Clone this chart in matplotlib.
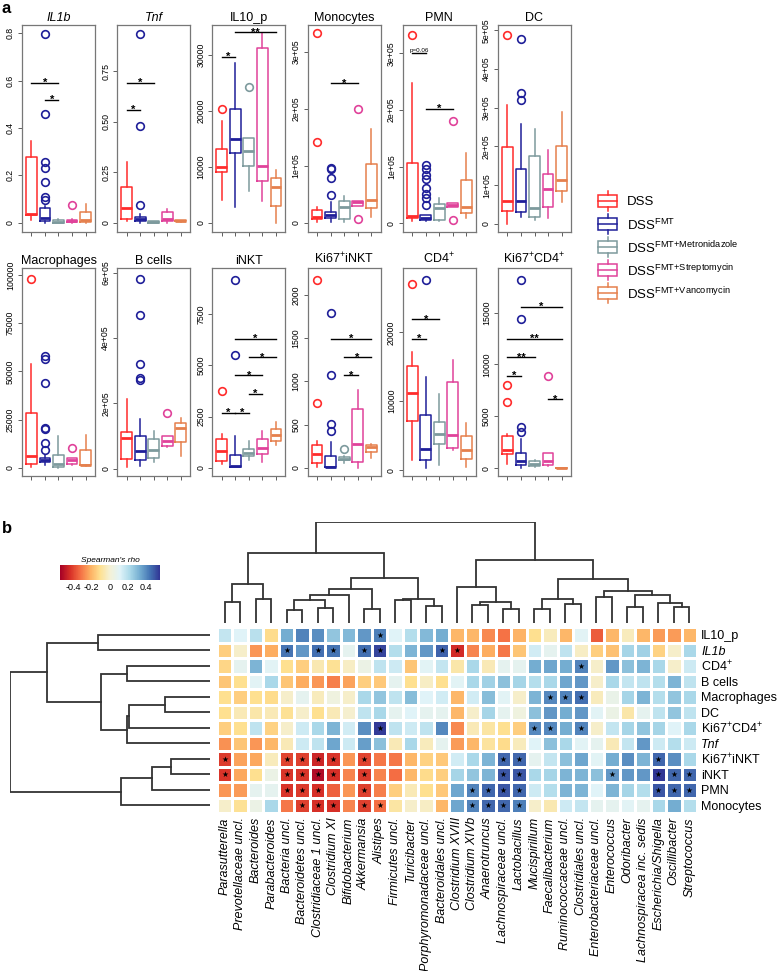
import matplotlib.pyplot as plt
import numpy as np
from matplotlib.colors import LinearSegmentedColormap
from matplotlib.patches import Rectangle

plt.rcParams["font.family"] = ["Liberation Sans", "DejaVu Sans"]
plt.rcParams["mathtext.fontset"] = "custom"
plt.rcParams["mathtext.rm"] = "Liberation Sans"
plt.rcParams["mathtext.it"] = "Liberation Sans:italic"
plt.rcParams["mathtext.bf"] = "Liberation Sans:bold"

# ---------------- panel a: boxplot summaries ----------------
group_names = ["DSS", r"DSS$^{\mathrm{FMT}}$", r"DSS$^{\mathrm{FMT{+}Metronidazole}}$",
               r"DSS$^{\mathrm{FMT{+}Streptomycin}}$", r"DSS$^{\mathrm{FMT{+}Vancomycin}}$"]
group_colors = ["#FF2B2B", "#1F1F99", "#7D9A9D", "#E0429A", "#E5804D"]

# (whislo, q1, med, q3, whishi) per group
il1b_box = [(0.01, 0.03, 0.034, 0.275, 0.345), (0.0, 0.006, 0.02, 0.06, 0.07),
            (0.0, 0.0, 0.004, 0.01, 0.015), (0.0, 0.004, 0.007, 0.011, 0.014),
            (0.0, 0.003, 0.012, 0.045, 0.08)]
il1b_out = [[], [0.796, 0.457, 0.257, 0.229, 0.173, 0.11, 0.097], [], [0.075], []]
il1b_sig = [(1, 3, 0.59, "*"), (2, 3, 0.52, "*")]

tnf_box = [(0.007, 0.016, 0.072, 0.176, 0.30), (0.0, 0.007, 0.016, 0.028, 0.045),
           (0.0, 0.0, 0.003, 0.008, 0.01), (0.0, 0.007, 0.02, 0.053, 0.07),
           (0.006, 0.008, 0.01, 0.012, 0.014)]
tnf_out = [[], [0.936, 0.477, 0.086], [], [], []]
tnf_sig = [(1, 3, 0.694, "*"), (1, 2, 0.56, "*")]

il10_box = [(4140, 9000, 9880, 13130, 18170), (2780, 12430, 15030, 20350, 28520),
            (5740, 10060, 12840, 15200, 15200), (3850, 7510, 10060, 31180, 33850),
            (0, 3080, 6450, 7930, 9470)]
il10_out = [[20350], [], [24260], [], []]
il10_sig = [(1, 2, 29590, "*"), (2, 5, 34020, "**")]

mono_box = [(0.02e5, 0.07e5, 0.10e5, 0.23e5, 0.27e5), (0.02e5, 0.08e5, 0.13e5, 0.19e5, 0.36e5),
            (0.02e5, 0.07e5, 0.27e5, 0.39e5, 0.48e5), (0.30e5, 0.30e5, 0.37e5, 0.39e5, 0.39e5),
            (0.10e5, 0.26e5, 0.40e5, 1.03e5, 1.64e5)]
mono_out = [[3.33e5, 1.41e5], [0.49e5, 0.78e5, 0.94e5, 0.97e5], [], [2.0e5, 0.06e5], []]
mono_sig = [(2, 4, 2.45e5, "*")]

pmn_box = [(0.04e5, 0.09e5, 0.13e5, 1.06e5, 2.48e5), (0.04e5, 0.07e5, 0.09e5, 0.15e5, 0.15e5),
           (0.04e5, 0.07e5, 0.27e5, 0.35e5, 0.45e5), (0.29e5, 0.29e5, 0.32e5, 0.36e5, 0.36e5),
           (0.10e5, 0.19e5, 0.29e5, 0.77e5, 1.25e5)]
pmn_out = [[3.33e5], [0.32e5, 0.45e5, 0.52e5, 0.63e5, 0.79e5, 0.86e5, 0.96e5, 1.03e5],
           [], [1.8e5, 0.06e5], []]
pmn_sig = [(1, 2, 3.0e5, "p=0.06"), (2, 4, 2.02e5, "*")]

dc_box = [(0.0, 0.34e5, 0.58e5, 1.98e5, 3.07e5), (0.17e5, 0.30e5, 0.60e5, 1.42e5, 2.58e5),
          (0.09e5, 0.17e5, 0.40e5, 1.76e5, 2.44e5), (0.14e5, 0.44e5, 0.91e5, 1.29e5, 1.90e5),
          (0.57e5, 0.85e5, 1.13e5, 2.00e5, 2.88e5)]
dc_out = [[4.87e5], [4.79e5, 3.37e5, 3.19e5], [], [], []]
dc_sig = []

mac_box = [(500, 1700, 6300, 28600, 53600), (1400, 2900, 4000, 5100, 6800),
           (0, 500, 1700, 6850, 16270), (1200, 2200, 3900, 4800, 5100),
           (860, 1200, 1540, 9400, 17100)]
mac_out = [[98000], [58200, 56200, 43700, 20550, 20030, 12840, 9080], [], [10270], []]
mac_sig = []

bcell_box = [(0.05e5, 0.30e5, 0.94e5, 1.14e5, 2.12e5), (0.08e5, 0.26e5, 0.54e5, 1.01e5, 1.52e5),
             (0.20e5, 0.33e5, 0.56e5, 0.91e5, 1.17e5), (0.67e5, 0.71e5, 0.86e5, 1.01e5, 1.01e5),
             (0.40e5, 0.82e5, 1.26e5, 1.39e5, 1.55e5)]
bcell_out = [[], [5.81e5, 4.71e5, 3.21e5, 2.79e5, 2.71e5], [], [1.70e5], []]
bcell_sig = []

inkt_box = [(210, 320, 810, 1420, 1660), (50, 50, 80, 650, 1560), (370, 560, 730, 940, 1290),
            (270, 680, 970, 1420, 1820), (1130, 1320, 1610, 1900, 2260)]
inkt_out = [[3740], [9190, 5520], [], [], []]
inkt_sig = [(1, 2, 2690, "*"), (2, 3, 2690, "*"), (3, 4, 3600, "*"),
            (2, 4, 4520, "*"), (3, 5, 5400, "*"), (2, 5, 6290, "*")]

kinkt_box = [(10, 50, 160, 260, 305), (5, 8, 10, 134, 294), (57, 88, 103, 122, 134),
             (0, 69, 279, 680, 897), (115, 183, 240, 267, 275)]
kinkt_out = [[2175, 744], [1794, 1076, 504, 427], [218], [], []]
kinkt_sig = [(3, 4, 1069, "*"), (3, 5, 1279, "*"), (2, 5, 1489, "*")]

cd4_box = [(1440, 7190, 11220, 15060, 17220), (340, 1530, 3120, 8010, 13530),
           (670, 3790, 5280, 6950, 11030), (2880, 3210, 5040, 12810, 16020),
           (430, 1680, 2970, 4890, 6910)]
cd4_out = [[27050], [27670], [], [], []]
cd4_sig = [(1, 2, 19040, "*"), (1, 3, 21920, "*")]

kcd4_box = [(350, 1400, 1720, 3060, 3310), (30, 290, 670, 1460, 2800), (100, 250, 410, 670, 830),
            (190, 290, 670, 1460, 1460), (0, 0, 0, 10, 20)]
kcd4_out = [[7990, 6340], [18190, 14360, 4010, 3440], [], [8850], []]
kcd4_sig = [(1, 2, 8880, "*"), (1, 3, 10700, "**"), (1, 5, 12450, "**"),
            (2, 5, 15570, "*"), (4, 5, 6620, "*")]

top_panels = [
    ("IL1b", True, il1b_box, il1b_out, il1b_sig, (-0.04, 0.835),
     [0, 0.2, 0.4, 0.6, 0.8], ["0", "0.2", "0.4", "0.6", "0.8"]),
    ("Tnf", True, tnf_box, tnf_out, tnf_sig, (-0.046, 0.98),
     [0, 0.25, 0.5, 0.75], ["0", "0.25", "0.50", "0.75"]),
    ("IL10_p", False, il10_box, il10_out, il10_sig, (-1650, 35300),
     [0, 10000, 20000, 30000], ["0", "10000", "20000", "30000"]),
    ("Monocytes", False, mono_box, mono_out, mono_sig, (-0.16e5, 3.47e5),
     [0, 1e5, 2e5, 3e5], ["0", "1e+05", "2e+05", "3e+05"]),
    ("PMN", False, pmn_box, pmn_out, pmn_sig, (-0.15e5, 3.5e5),
     [0, 1e5, 2e5, 3e5], ["0", "1e+05", "2e+05", "3e+05"]),
    ("DC", False, dc_box, dc_out, dc_sig, (-0.21e5, 5.14e5),
     [0, 1e5, 2e5, 3e5, 4e5, 5e5], ["0", "1e+05", "2e+05", "3e+05", "4e+05", "5e+05"]),
]
bottom_panels = [
    ("Macrophages", False, mac_box, mac_out, mac_sig, (-4280, 103600),
     [0, 25000, 50000, 75000, 100000], ["0", "25000", "50000", "75000", "100000"]),
    ("B cells", False, bcell_box, bcell_out, bcell_sig, (-0.22e5, 6.14e5),
     [0, 2e5, 4e5, 6e5], ["0", "2e+05", "4e+05", "6e+05"]),
    ("iNKT", False, inkt_box, inkt_out, inkt_sig, (-400, 9760),
     [0, 2500, 5000, 7500], ["0", "2500", "5000", "7500"]),
    (r"Ki67$^{+}$iNKT", False, kinkt_box, kinkt_out, kinkt_sig, (-95, 2310),
     [0, 500, 1000, 1500, 2000], ["0", "500", "1000", "1500", "2000"]),
    (r"CD4$^{+}$", False, cd4_box, cd4_out, cd4_sig, (-860, 29350),
     [0, 10000, 20000], ["0", "10000", "20000"]),
    (r"Ki67$^{+}$CD4$^{+}$", False, kcd4_box, kcd4_out, kcd4_sig, (-760, 19300),
     [0, 5000, 10000, 15000], ["0", "5000", "10000", "15000"]),
]

# ---------------- panel b: Spearman correlations ----------------
taxa = ["Parasutterella", "Prevotellaceae uncl.", "Bacteroides", "Parabacteroides",
        "Bacteria uncl.", "Bacteroidetes uncl.", "Clostridiaceae 1 uncl.", "Clostridium XI",
        "Bifidobacterium", "Akkermansia", "Alistipes", "Firmicutes uncl.", "Turicibacter",
        "Porphyromonadaceae uncl.", "Bacteroidales uncl.", "Clostridium XVIII",
        "Clostridium XIVb", "Anaerotruncus", "Lachnospiraceae uncl.", "Lactobacillus",
        "Mucispirillum", "Faecalibacterium", "Ruminococcaceae uncl.", "Clostridiales uncl.",
        "Enterobacteriaceae uncl.", "Enterococcus", "Odoribacter", "Lachnospiracea inc. sedis",
        "Escherichia/Shigella", "Oscillibacter", "Streptococcus"]
markers = ["IL10_p", "IL1b", r"CD4$^{+}$", "B cells", "Macrophages", "DC", r"Ki67$^{+}$CD4$^{+}$",
           "Tnf", r"Ki67$^{+}$iNKT", "iNKT", "PMN", "Monocytes"]
marker_italic = [False, True, False, False, False, False, False, True, False, False, False, False]

rho_il10p = [0.17, 0.11, 0.19, -0.12, 0.33, 0.41, 0.39, 0.27, 0.30, 0.37, 0.42, 0.11, 0.20, 0.30, 0.33,
             -0.20, -0.20, -0.28, -0.32, -0.21, -0.11, -0.04, -0.20, 0.10, -0.36, -0.20, -0.04, -0.20,
             -0.25, -0.25, -0.20]
rho_il1b = [-0.15, -0.02, -0.26, -0.22, 0.44, 0.37, 0.45, 0.44, 0.08, 0.45, 0.52, 0.20, 0.31, 0.37, 0.47,
            -0.45, -0.29, -0.22, -0.31, -0.17, 0.14, 0.08, 0.18, -0.03, -0.15, -0.18, 0.23, 0.24,
            -0.14, -0.02, 0.22]
rho_cd4 = [-0.13, 0.08, 0.31, 0.10, -0.11, -0.15, -0.06, -0.10, -0.03, 0.05, 0.18, 0.15, -0.17, 0.10, 0.17,
           -0.07, 0.22, -0.05, 0.08, 0.08, 0.33, 0.34, 0.33, 0.41, -0.02, 0.37, 0.28, 0.31, 0.22,
           -0.02, 0.15]
rho_bcells = [-0.17, -0.11, 0.10, 0.22, -0.17, -0.22, -0.26, -0.30, -0.24, -0.15, -0.16, 0.08, -0.11,
              -0.03, -0.11, 0.10, 0.22, 0.24, 0.28, 0.23, 0.20, 0.22, 0.34, 0.37, -0.02, 0.22, 0.17,
              0.18, 0.20, 0.31, 0.18]
rho_macro = [-0.11, -0.15, -0.11, -0.12, -0.02, 0.08, -0.04, 0.03, -0.02, 0.22, 0.27, 0.18, 0.29, 0.11,
             0.14, -0.20, 0.14, 0.29, 0.10, -0.02, 0.31, 0.40, 0.41, 0.45, -0.04, 0.06, 0.23, 0.31,
             0.20, 0.27, 0.22]
rho_dc = [-0.11, -0.05, -0.07, -0.05, -0.10, -0.02, -0.11, -0.05, -0.01, 0.18, 0.22, 0.08, 0.11, 0.08,
          0.08, -0.20, -0.02, 0.23, 0.08, 0.03, 0.28, 0.37, 0.33, 0.37, 0.10, 0.05, -0.07, 0.08, 0.18,
          0.27, 0.18]
rho_kcd4 = [-0.15, -0.11, 0.18, -0.14, -0.02, 0.15, 0.22, 0.31, 0.14, 0.39, 0.54, 0.18, 0.15, 0.18, 0.40,
            -0.28, -0.05, -0.08, -0.11, -0.15, 0.40, 0.40, 0.33, 0.41, -0.02, 0.17, 0.23, 0.27, 0.23,
            0.11, 0.22]
rho_tnf = [-0.27, -0.17, -0.26, -0.20, -0.05, 0.15, 0.18, 0.34, 0.15, 0.36, 0.28, -0.05, 0.22, -0.04,
           0.08, -0.25, -0.20, -0.09, -0.12, -0.04, 0.11, 0.28, 0.22, 0.10, 0.08, -0.05, 0.17, 0.37,
           0.15, 0.20, 0.15]
rho_kinkt = [-0.42, -0.24, -0.23, -0.04, -0.40, -0.41, -0.46, -0.43, -0.26, -0.40, -0.31, -0.31, -0.20,
             -0.14, -0.16, 0.14, 0.22, 0.31, 0.46, 0.46, 0.08, 0.17, 0.28, 0.34, 0.10, 0.33, 0.39, 0.31,
             0.46, 0.39, 0.22]
rho_inkt = [-0.43, -0.23, -0.11, 0.05, -0.43, -0.43, -0.52, -0.44, -0.29, -0.42, -0.29, -0.33, -0.20,
            -0.12, -0.15, 0.23, 0.27, 0.31, 0.49, 0.49, 0.22, 0.23, 0.31, 0.31, 0.28, 0.37, 0.37, 0.37,
            0.55, 0.46, 0.46]
rho_pmn = [-0.26, -0.25, 0.08, 0.08, -0.43, -0.42, -0.44, -0.35, -0.26, -0.41, -0.30, -0.15, -0.05, -0.11,
           -0.16, 0.34, 0.41, 0.46, 0.49, 0.46, 0.15, 0.20, 0.31, 0.31, 0.11, 0.31, 0.23, 0.20, 0.49,
           0.46, 0.46]
rho_mono = [-0.02, -0.10, 0.05, 0.22, -0.31, -0.41, -0.44, -0.44, -0.29, -0.41, -0.33, -0.08, -0.02,
            -0.03, -0.20, 0.34, 0.41, 0.46, 0.46, 0.42, -0.02, -0.06, 0.15, 0.17, 0.08, 0.08, 0.10,
            0.08, 0.22, 0.33, 0.20]

# significant cells (column indices) for each row
sig_il10p = [10]
sig_il1b = [4, 6, 7, 9, 10, 14, 15]
sig_cd4 = [23]
sig_bcells = []
sig_macro = [21, 22, 23]
sig_dc = []
sig_kcd4 = [10, 20, 21, 23]
sig_tnf = []
sig_kinkt = [0, 4, 5, 6, 7, 9, 18, 19, 28]
sig_inkt = [0, 4, 5, 6, 7, 9, 18, 19, 25, 28, 29, 30]
sig_pmn = [4, 5, 6, 9, 16, 17, 18, 19, 28, 29, 30]
sig_mono = [5, 6, 7, 9, 10, 16, 17, 18, 19]

# dendrograms: (left, right, merge height), leaves numbered from 1
col_tree = ((((1, 2, 62), (3, 4, 72), 118),
             (((((5, 6, 38), (7, 8, 45), 70), 9, 85), (10, 11, 43), 103),
              ((12, 13, 70), (14, 15, 50), 72), 135), 208),
            ((16, ((17, 18, 55), (19, 20, 43), 62), 108),
             (((21, 22, 43), (23, 24, 58), 73),
              ((25, 26, 78), ((27, 28, 48), (29, (30, 31, 48), 60), 83), 97), 133), 188),
            302)
row_tree = (((1, 2, 335), ((3, 4, 250), (((5, 6, 135), 7, 242), 8, 248), 328), 490),
            (((9, 10, 118), 11, 175), 12, 268), 600)

# ---------------- drawing ----------------
W, H = 778, 971
fig = plt.figure(figsize=(W / 100, H / 100), dpi=100)


def px_axes(x0, y0, x1, y1):
    return fig.add_axes([x0 / W, 1 - y1 / H, (x1 - x0) / W, (y1 - y0) / H])


def draw_box_panel(ax, title, italic, box, out, sig, ylim, yticks, ylabels):
    stats = [dict(whislo=b[0], q1=b[1], med=b[2], q3=b[3], whishi=b[4], fliers=o)
             for b, o in zip(box, out)]
    art = ax.bxp(stats, positions=range(1, 6), widths=0.8, showcaps=False, manage_ticks=False)
    for i, c in enumerate(group_colors):
        art["boxes"][i].set(color=c, linewidth=1.1)
        art["medians"][i].set(color=c, linewidth=2.0)
        for w in art["whiskers"][2 * i:2 * i + 2]:
            w.set(color=c, linewidth=1.1, linestyle="-")
        art["fliers"][i].set(marker="o", markerfacecolor="none", markeredgecolor=c,
                             markersize=5.5, markeredgewidth=1.2)
    for g1, g2, y, lab in sig:
        ax.plot([g1, g2], [y, y], color="black", lw=1.0)
        if lab.startswith("p"):
            ax.annotate(lab, ((g1 + g2) / 2, y), xytext=(0, 1.2), textcoords="offset points",
                        ha="center", va="baseline", fontsize=4.5)
        else:
            ax.annotate(lab, ((g1 + g2) / 2, y), xytext=(0, -2.3), textcoords="offset points",
                        ha="center", va="baseline", fontsize=8, fontweight="bold")
    ax.set_xlim(0.3, 5.7)
    ax.set_ylim(*ylim)
    ax.set_xticks(range(1, 6))
    ax.set_xticklabels([])
    ax.set_yticks(yticks)
    ax.set_yticklabels(ylabels, rotation=90, va="center", fontsize=6.3)
    ax.tick_params(length=3, width=0.6, pad=2, color="#444444")
    for s in ax.spines.values():
        s.set_color("#777777")
        s.set_linewidth(0.9)
    ax.set_title(title, fontsize=9, style="italic" if italic else "normal", pad=3)


for i, p in enumerate(top_panels):
    x0 = 22 + 95.2 * i
    draw_box_panel(px_axes(x0, 25, x0 + 73, 232), *p)
for i, p in enumerate(bottom_panels):
    x0 = 22 + 95.2 * i
    draw_box_panel(px_axes(x0, 268, x0 + 73, 476), *p)

# legend of groups (box glyphs)
lax = px_axes(590, 185, 780, 305)
lax.set_xlim(590, 780)
lax.set_ylim(305, 185)
lax.axis("off")
for i, (name, c) in enumerate(zip(group_names, group_colors)):
    yc = 201 + 23 * i
    lax.add_patch(Rectangle((598, yc - 6), 19, 12, fill=False, edgecolor=c, lw=1.1))
    lax.plot([598, 617], [yc, yc], color=c, lw=1.1)
    lax.plot([607.5, 607.5], [yc - 10, yc - 6], color=c, lw=1.1)
    lax.plot([607.5, 607.5], [yc + 6, yc + 10], color=c, lw=1.1)
    lax.text(627, yc + 1, name, fontsize=9.5, va="center", ha="left")

fig.text(2 / W, 1 - 1 / H, "a", fontsize=12, fontweight="bold", va="top", ha="left")
fig.text(2 / W, 1 - 521 / H, "b", fontsize=12, fontweight="bold", va="top", ha="left")

# heatmap
rho = np.array([rho_il10p, rho_il1b, rho_cd4, rho_bcells, rho_macro, rho_dc, rho_kcd4,
                rho_tnf, rho_kinkt, rho_inkt, rho_pmn, rho_mono])
stars = [sig_il10p, sig_il1b, sig_cd4, sig_bcells, sig_macro, sig_dc, sig_kcd4,
         sig_tnf, sig_kinkt, sig_inkt, sig_pmn, sig_mono]
cmap = LinearSegmentedColormap.from_list(
    "rdylbu", ["#A50026", "#D73027", "#F46D43", "#FDAE61", "#FEE090", "#F4F1D6",
               "#E0F3F8", "#ABD9E9", "#74ADD1", "#4575B4", "#313695"])

hax = px_axes(217, 627, 697, 813)
mesh = hax.pcolormesh(rho, cmap=cmap, vmin=-0.55, vmax=0.55, edgecolors="white", linewidth=1.0)
for r, cols in enumerate(stars):
    if cols:
        hax.scatter(np.array(cols) + 0.5, np.full(len(cols), r + 0.5), marker="*", s=20,
                    c="black", linewidths=0, zorder=3)
hax.set_xlim(0, len(taxa))
hax.set_ylim(len(markers), 0)
hax.set_xticks(np.arange(len(taxa)) + 0.5)
hax.set_xticklabels(taxa, rotation=90, fontsize=9, style="italic")
hax.yaxis.tick_right()
hax.set_yticks(np.arange(len(markers)) + 0.5)
hax.set_yticklabels(markers, fontsize=9)
for lbl, it in zip(hax.get_yticklabels(), marker_italic):
    if it:
        lbl.set_style("italic")
hax.tick_params(length=0, pad=3)
for s in hax.spines.values():
    s.set_visible(False)


def draw_tree(ax, node, orient):
    if isinstance(node, int):
        return node - 0.5, 0.0
    left, right, h = node
    c1, h1 = draw_tree(ax, left, orient)
    c2, h2 = draw_tree(ax, right, orient)
    pos = [c1, c1, c2, c2]
    hts = [h1, h, h, h2]
    if orient == "top":
        ax.plot(pos, hts, color="#333333", lw=1.3, solid_joinstyle="miter")
    else:
        ax.plot(hts, pos, color="#333333", lw=1.3, solid_joinstyle="miter")
    return (c1 + c2) / 2, h


tax_ = px_axes(217, 522, 697, 623)
draw_tree(tax_, col_tree, "top")
tax_.set_xlim(0, len(taxa))
tax_.set_ylim(0, 302)
tax_.axis("off")

rax = px_axes(10, 627, 210, 813)
draw_tree(rax, row_tree, "left")
rax.set_xlim(600, 0)
rax.set_ylim(len(markers), 0)
rax.axis("off")

# colour key
cax = px_axes(60, 565, 160, 580)
cb = fig.colorbar(mesh, cax=cax, orientation="horizontal")
cb.set_ticks([-0.4, -0.2, 0, 0.2, 0.4])
cb.set_ticklabels(["-0.4", "-0.2", "0", "0.2", "0.4"])
cb.outline.set_visible(False)
cax.tick_params(length=0, labelsize=6.5, pad=2)
cax.set_title("Spearman's rho", fontsize=6, style="italic", pad=2)

fig.savefig("out.png", dpi=100)
